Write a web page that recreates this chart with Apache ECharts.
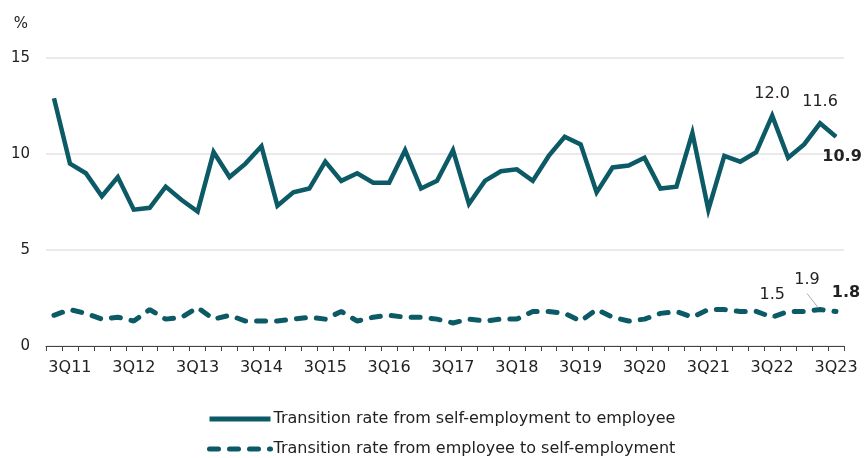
<!DOCTYPE html>
<html><head><meta charset="utf-8">
<script src="https://cdn.jsdelivr.net/npm/echarts@6/dist/echarts.min.js"></script>
<style>html,body{margin:0;padding:0;background:#fff}#c{width:864px;height:458px}</style>
</head><body><div id="c"></div>
<script>
const categories = ['2Q11','3Q11','4Q11','1Q12','2Q12','3Q12','4Q12','1Q13','2Q13','3Q13','4Q13','1Q14','2Q14','3Q14','4Q14','1Q15','2Q15','3Q15','4Q15','1Q16','2Q16','3Q16','4Q16','1Q17','2Q17','3Q17','4Q17','1Q18','2Q18','3Q18','4Q18','1Q19','2Q19','3Q19','4Q19','1Q20','2Q20','3Q20','4Q20','1Q21','2Q21','3Q21','4Q21','1Q22','2Q22','3Q22','4Q22','1Q23','2Q23','3Q23'];
const selfToEmployee = [12.9,9.5,9.0,7.8,8.8,7.1,7.2,8.3,7.6,7.0,10.1,8.8,9.5,10.4,7.3,8.0,8.2,9.6,8.6,9.0,8.5,8.5,10.2,8.2,8.6,10.2,7.4,8.6,9.1,9.2,8.6,9.9,10.9,10.5,8.0,9.3,9.4,9.8,8.2,8.3,11.1,7.1,9.9,9.6,10.1,12.0,9.8,10.5,11.6,10.9];
const employeeToSelf = [1.6,1.9,1.7,1.4,1.5,1.3,1.9,1.4,1.5,2.0,1.4,1.6,1.3,1.3,1.3,1.4,1.5,1.4,1.8,1.3,1.5,1.6,1.5,1.5,1.4,1.2,1.4,1.3,1.4,1.4,1.8,1.8,1.7,1.3,1.9,1.5,1.3,1.4,1.7,1.8,1.5,1.9,1.9,1.8,1.8,1.5,1.8,1.8,1.9,1.8];
const yTicks = [0,5,10,15];
const seriesNames = ['Transition rate from self-employment to employee','Transition rate from employee to self-employment'];

const COLOR = '#0b5a66';
const FONT = 'DejaVu Sans';
const fmt = (p) => Number(p.value).toFixed(1);
const lab = {fontFamily: FONT, fontSize: 16, color: '#222', formatter: fmt};
const mark = {symbol: 'circle', symbolSize: 1};

const d1 = selfToEmployee.map((v, i) => {
  const o = {value: v};
  if (i === 45 || i === 48) Object.assign(o, mark, {label: {show: true, position: 'top', distance: 13, ...lab}});
  if (i === 49) Object.assign(o, mark, {label: {show: true, position: 'bottom', offset: [6, 0], distance: 12, ...lab, fontWeight: 'bold'}});
  return o;
});
const d2 = employeeToSelf.map((v, i) => {
  const o = {value: v};
  if (i === 45) Object.assign(o, mark, {label: {show: true, position: 'top', distance: 14, ...lab}});
  if (i === 48) Object.assign(o, mark, {label: {show: true, position: 'top', offset: [-13, -9], distance: 12, ...lab}});
  if (i === 49) Object.assign(o, mark, {label: {show: true, position: 'top', offset: [10, -6], distance: 4, ...lab, fontWeight: 'bold'}});
  return o;
});

const chart = echarts.init(document.getElementById('c'));
chart.setOption({
  animation: false,
  grid: {left: 46, right: 20, top: 58, bottom: 112},
  legend: {
    orient: 'vertical', left: 207, top: 411, height: 100, itemGap: 14, padding: 0,
    itemWidth: 61, itemHeight: 18,
    itemStyle: {opacity: 0},
    lineStyle: {width: 5},
    textStyle: {fontFamily: FONT, fontSize: 16, color: '#222', padding: [0,0,0,-2]},
    data: seriesNames
  },
  xAxis: {
    type: 'category', data: categories, boundaryGap: true,
    axisLine: {lineStyle: {color: '#444', width: 1}},
    axisTick: {show: true, interval: 0, length: 5, lineStyle: {color: '#444'}},
    axisLabel: {interval: (i) => i % 4 === 1, fontFamily: FONT, fontSize: 16, color: '#222', margin: 14},
    splitLine: {show: false}
  },
  yAxis: {
    type: 'value', min: yTicks[0], max: yTicks[yTicks.length-1], interval: 5,
    name: '%', nameLocation: 'end', nameGap: 26,
    nameTextStyle: {fontFamily: FONT, fontSize: 15, color: '#222', align: 'right', padding: [0, 18, 0, 0]},
    axisLine: {show: false}, axisTick: {show: false},
    axisLabel: {fontFamily: FONT, fontSize: 15, color: '#222', margin: 16},
    splitLine: {lineStyle: {color: '#e3e3e3', width: 1.5}}
  },
  series: [
    {name: seriesNames[0], type: 'line', data: d1, symbol: 'none', showSymbol: true, z: 3,
     lineStyle: {color: COLOR, width: 4.5, join: 'miter'}, itemStyle: {color: COLOR}},
    {name: seriesNames[1], type: 'line', data: d2, symbol: 'none', showSymbol: true, z: 3,
     lineStyle: {color: COLOR, width: 5, type: [9, 11], cap: 'round'}, itemStyle: {color: COLOR}}
  ]
});
// leader line for the 1.9 label, positioned through the chart's own scales
const p = chart.convertToPixel({seriesIndex: 1}, [48, employeeToSelf[48]]);
chart.setOption({graphic: [{type: 'line', shape: {x1: p[0] - 2, y1: p[1] - 2, x2: p[0] - 13, y2: p[1] - 16}, style: {stroke: '#aaa', lineWidth: 1}, z: 10}]});
</script></body></html>
